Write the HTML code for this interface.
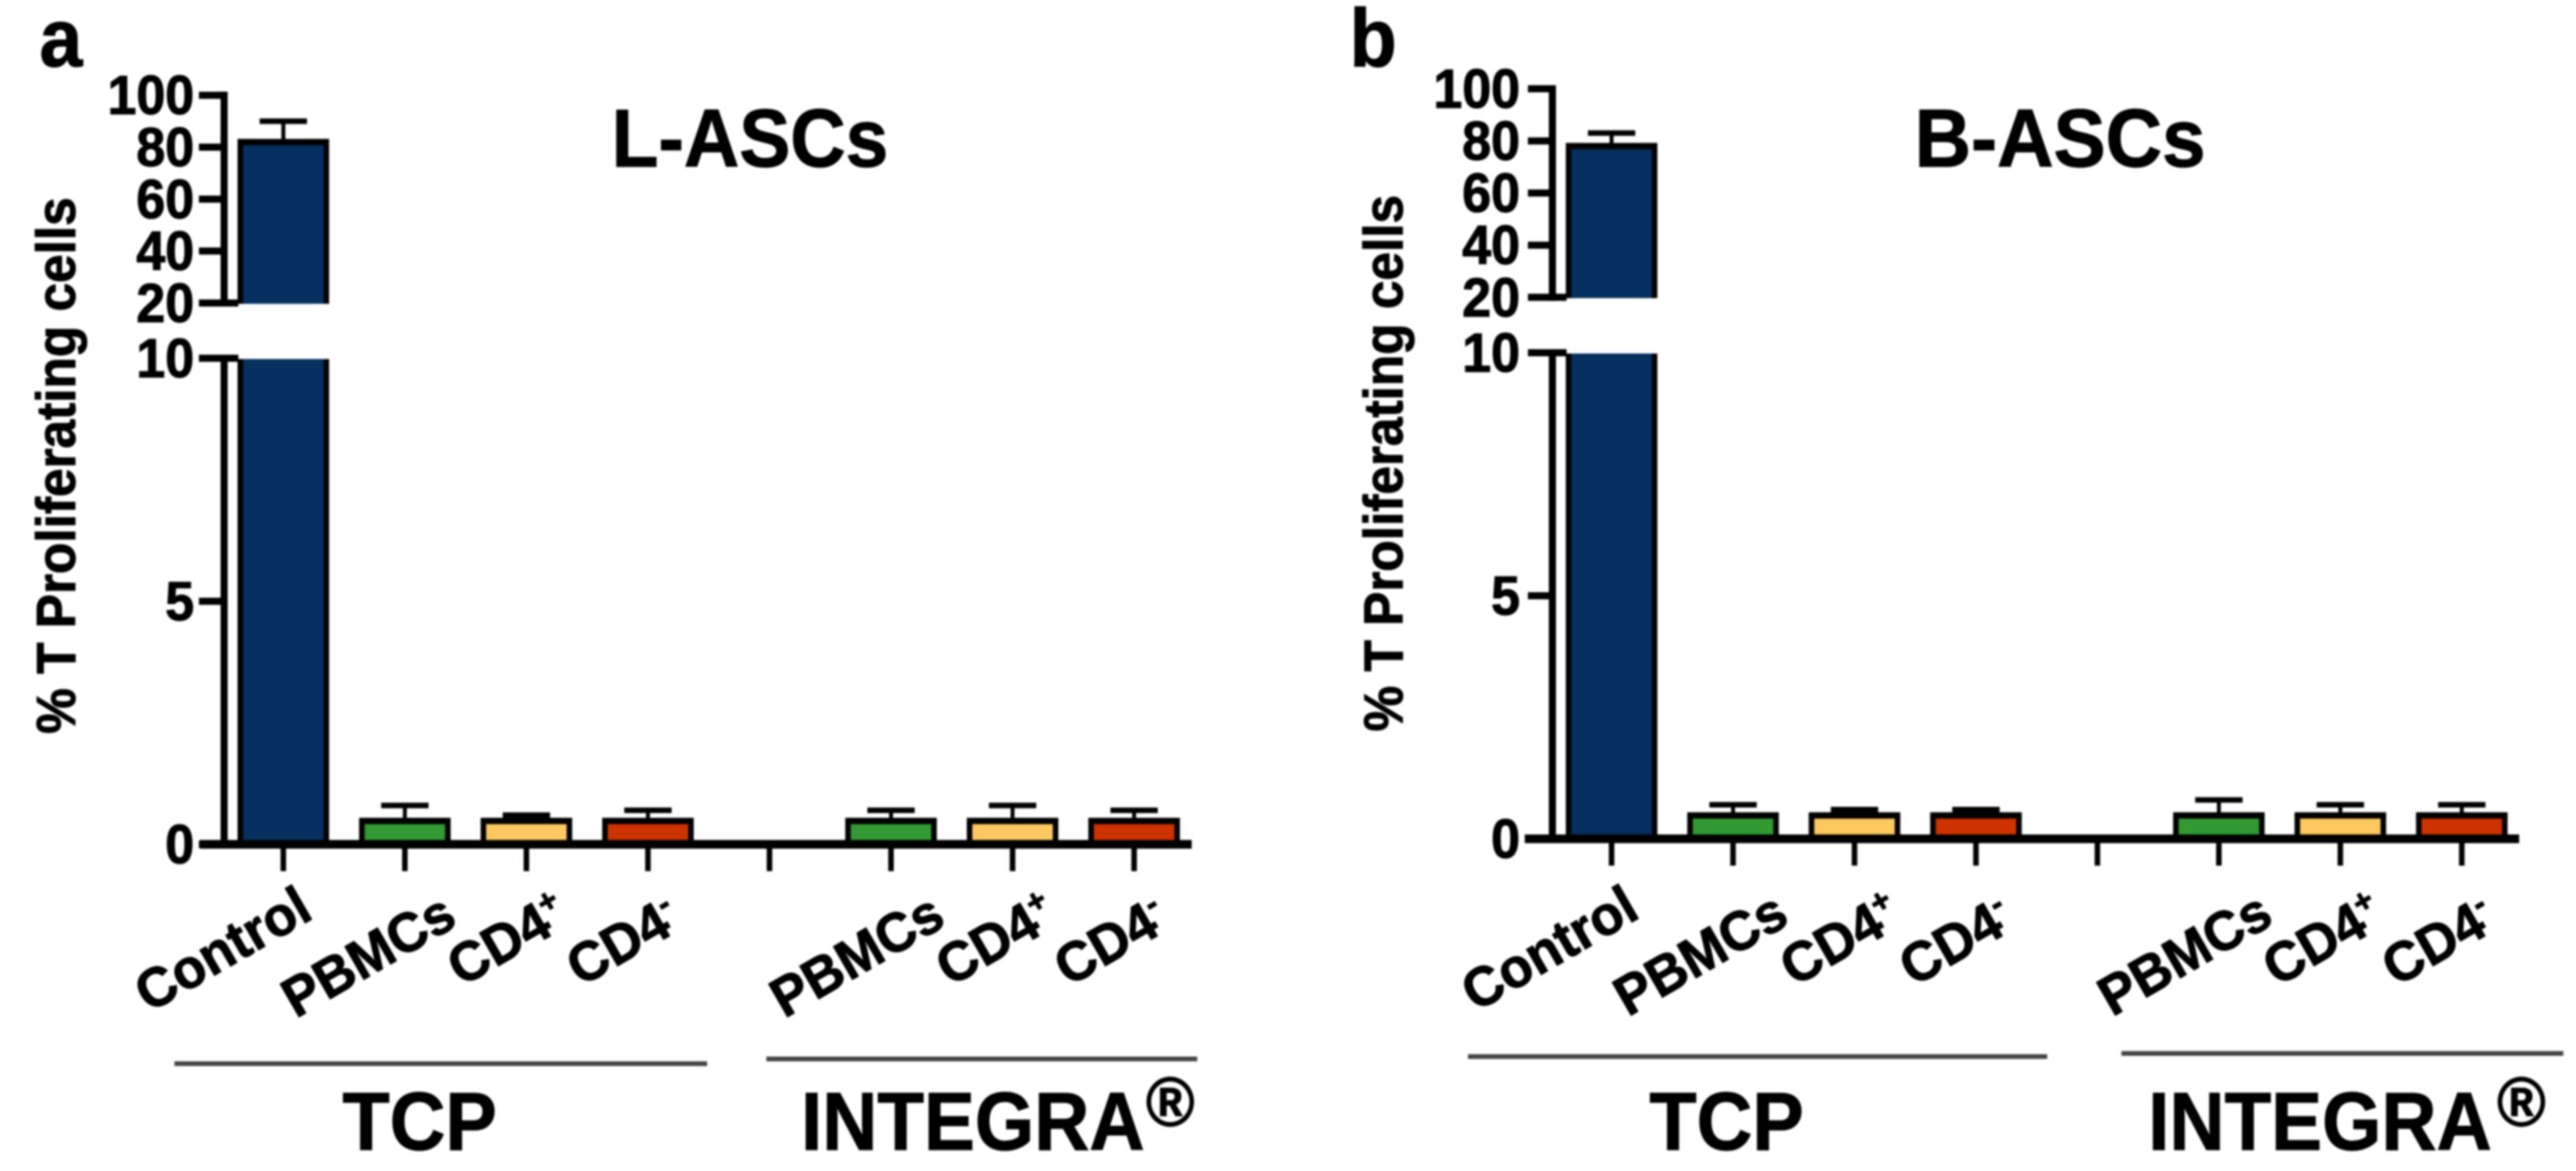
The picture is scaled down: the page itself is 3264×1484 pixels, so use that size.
<!DOCTYPE html>
<html lang="en">
<head>
<meta charset="utf-8">
<title>T cell proliferation: L-ASCs and B-ASCs</title>
<style>
html,body{margin:0;padding:0;background:#fff;width:3264px;height:1484px;overflow:hidden}
svg{display:block;filter:blur(1.4px)}
text{font-family:"Liberation Sans",sans-serif;font-weight:700;fill:#000;stroke:#000;stroke-width:1.3px}
</style>
</head>
<body>
<svg id="figure" xmlns="http://www.w3.org/2000/svg" width="3264" height="1484" viewBox="0 0 3264 1484"></svg>
<script>
// ---- chart data ----
const categories = ['Control', 'PBMCs', 'CD4', 'CD4', '', 'PBMCs', 'CD4', 'CD4'];
const categorySuperscripts = ['', '', '+', '-', '', '', '+', '-'];
const upperTicks = [100, 80, 60, 40, 20];
const lowerTicks = [10, 5, 0];
const lAscMeans = [82, 0.48, 0.48, 0.48, null, 0.48, 0.48, 0.48];
const lAscErrors = [8, 0.32, 0.12, 0.22, null, 0.22, 0.32, 0.22];
const bAscMeans = [78, 0.48, 0.48, 0.48, null, 0.48, 0.48, 0.48];
const bAscErrors = [5, 0.22, 0.12, 0.12, null, 0.32, 0.22, 0.22];
const barColors = ['#05305f', '#339933', '#fcc85f', '#cc3300', 'none', '#339933', '#fcc85f', '#cc3300'];

// ---- layout of the two panels ----
const panels = [
  { key: 'a', title: 'L-ASCs', means: lAscMeans, errors: lAscErrors,
    y100: 120.7, y20: 384, y10: 454, y0: 1070,
    firstTick: 359, tickStep: 154, axisStart: 253, axisEnd: 1510, spineX: 284, tickLeft: 252, labelRight: 246,
    letterX: 50, letterY: 84, titleX: 775, titleWidth: 350, yTitleX: 95, yTitleY: 930,
    starts: [-170, -138, -82, -85, 0, -135, -79, -83], bottoms: [1284, 1291, 1251, 1251, 0, 1291, 1251, 1251],
    tcpLine: [221, 896, 1348], integraLine: [971, 1517, 1342], tcpX: 434, integraX: 1015, regX: 1452 },
  { key: 'b', title: 'B-ASCs', means: bAscMeans, errors: bAscErrors,
    y100: 112.5, y20: 376.8, y10: 447, y0: 1063,
    firstTick: 2042, tickStep: 153.9, axisStart: 1932, axisEnd: 3192, spineX: 1967, tickLeft: 1936, labelRight: 1926,
    letterX: 1710, letterY: 84, titleX: 2426, titleWidth: 357, yTitleX: 1777, yTitleY: 927,
    starts: [-172, -133, -76, -79, 0, -135, -80, -83], bottoms: [1283, 1289, 1251, 1251, 0, 1289, 1251, 1251],
    tcpLine: [1860, 2594, 1339], integraLine: [2688, 3248, 1335], tcpX: 2090, integraX: 2722, regX: 3164 }
];

const SVG_NS = 'http://www.w3.org/2000/svg';
const root = document.getElementById('figure');

function make(tag, attrs, parent) {
  const el = document.createElementNS(SVG_NS, tag);
  for (const k in attrs) el.setAttribute(k, attrs[k]);
  parent.appendChild(el);
  return el;
}
function label(parent, str, x, y, size, anchor, rot, sx) {
  const el = make('text', {
    transform: 'translate(' + x + ',' + y + ') rotate(' + rot + ') scale(' + sx + ',1)',
    'font-size': size, 'text-anchor': anchor
  }, parent);
  el.textContent = str;
  return el;
}
function line(parent, x1, y1, x2, y2, w, color) {
  return make('line', { x1: x1, y1: y1, x2: x2, y2: y2, stroke: color || '#000', 'stroke-width': w }, parent);
}

panels.forEach(function (p) {
  // piecewise axis with a break between 10 and 20
  const yScale = function (v) {
    if (v <= 10) return p.y0 + (p.y10 - p.y0) * v / 10;
    if (v >= 20) return p.y20 + (p.y100 - p.y20) * (v - 20) / 80;
    return p.y10 + (p.y20 - p.y10) * (v - 10) / 10;
  };
  const xScale = function (i) { return p.firstTick + p.tickStep * i; };

  const g = make('g', {}, root);
  
  

  const letter = label(g, p.key, p.letterX, p.letterY, 104, 'start', 0, 0.94);
  
  

  const title = label(g, p.title, p.titleX, 211, 104, 'start', 0, p.titleWidth / 375);
  
  

  const yTitle = label(g, '% T Proliferating cells', p.yTitleX, p.yTitleY, 70, 'start', -90, 0.93);
  
  

  // y axis spine, two segments
  const spineUpper = line(g, p.spineX, yScale(100) - 4.5, p.spineX, yScale(20) + 4.5, 9);
  
  
  const spineLower = line(g, p.spineX, yScale(10) - 4.5, p.spineX, yScale(0), 9);
  
  

  upperTicks.concat(lowerTicks).forEach(function (t) {
    const y = yScale(t);
    const breakTick = (t === 20 || t === 10);
    const tickMark = line(g, p.tickLeft, y, p.spineX + (breakTick ? 18 : 4), y, 9);
    
    
    const tickLabel = label(g, String(t), p.labelRight, y + 24, 70, 'end', 0, 0.94);
    
    
  });

  // bars and error bars
  categories.forEach(function (cat, i) {
    const v = p.means[i];
    const cx = xScale(i);
    if (v !== null) {
      const color = barColors[i];
      const bw = 109;
      const segments = v >= 20
        ? [[v, 20, 1], [10, 0, 1]]
        : [[Math.min(v, 10), 0, 0]];
      segments.forEach(function (s, si) {
        const top = yScale(s[0]);
        const bottom = s[1] === 0 ? yScale(0) : yScale(s[1]) + 1;
        const barTop = (v >= 20 && si === 1) ? top + 1 : top;
        const fill = make('rect', { x: cx - bw / 2, y: barTop, width: bw, height: bottom - barTop, fill: color }, g);
        
        
        const sides = make('path', {
          d: 'M' + (cx - bw / 2) + ' ' + bottom + 'V' + barTop + 'M' + (cx + bw / 2) + ' ' + barTop + 'V' + bottom,
          fill: 'none', stroke: '#000', 'stroke-width': 7
        }, g);
        
        
        if (!(v >= 20 && si === 1)) {
          const lid = line(g, cx - bw / 2 - 3.5, top, cx + bw / 2 + 3.5, top, 8);
          
          
        }
      });
      const errTop = yScale(v + p.errors[i]);
      const stem = line(g, cx, yScale(v), cx, errTop, 5);
      
      
      const cap = line(g, cx - 30, errTop, cx + 30, errTop, 7);
      
      
    }

    // x tick and label
    const xTick = line(g, cx, yScale(0), cx, yScale(0) + 34, 7);
    
    
    if (cat) {
      const xLabel = label(g, cat, cx + p.starts[i], p.bottoms[i], 70, 'start', -30, 0.975);
      
      
      if (categorySuperscripts[i]) {
        const sup = make('tspan', { 'font-size': 42, dy: -26 }, xLabel);
        sup.textContent = categorySuperscripts[i];
      }
    }
  });

  // x axis
  const xAxis = line(g, p.axisStart, yScale(0), p.axisEnd, yScale(0), 11);
  
  

  // group brackets and names
  const tcpRule = line(g, p.tcpLine[0], p.tcpLine[2], p.tcpLine[1], p.tcpLine[2], 6, '#444');
  
  
  const integraRule = line(g, p.integraLine[0], p.integraLine[2], p.integraLine[1], p.integraLine[2], 6, '#444');
  
  

  const tcpName = label(g, 'TCP', p.tcpX, 1457, 104, 'start', 0, 0.94);
  
  
  const integraName = label(g, 'INTEGRA', p.integraX, 1457, 104, 'start', 0, 0.93);
  
  
  const reg = label(g, '\u00AE', p.regX, 1427, 88, 'start', 0, 0.95);
  
  
});
</script>
</body>
</html>
